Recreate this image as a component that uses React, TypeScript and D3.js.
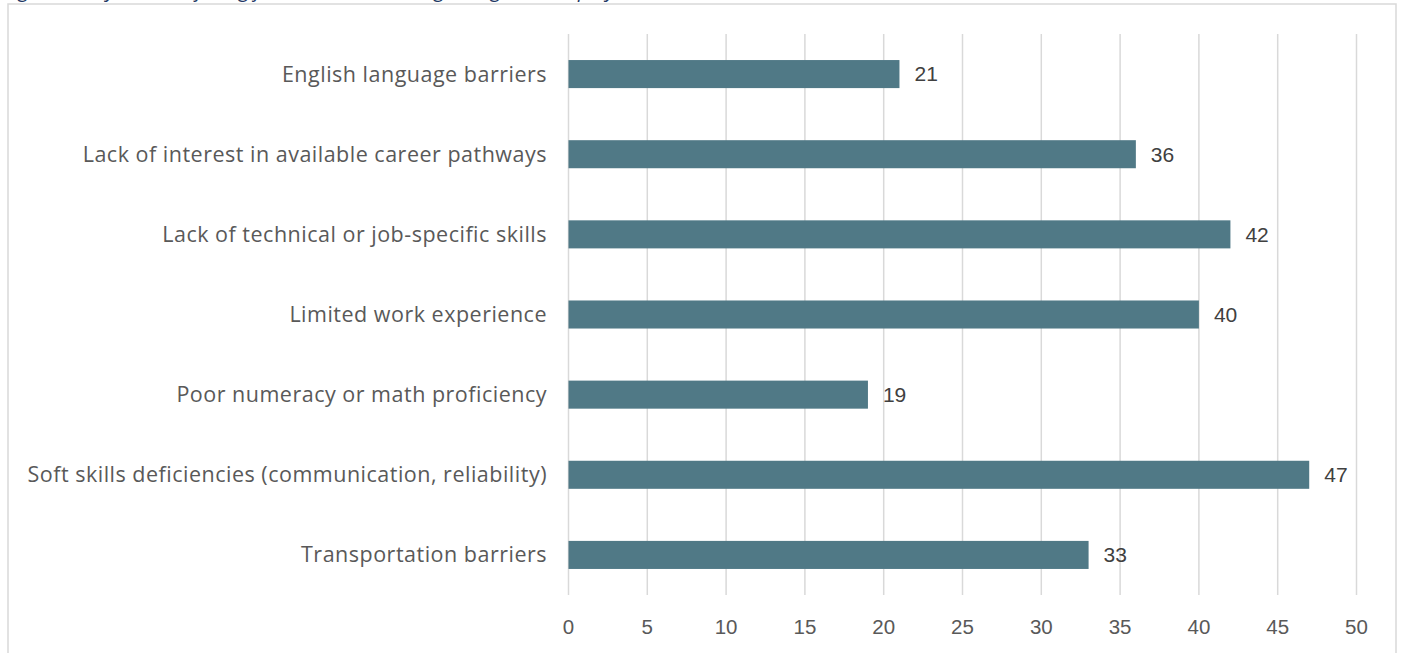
import { useEffect, useRef } from "react";
import * as d3 from "d3";

const CATEGORIES = [
  "English language barriers",
  "Lack of interest in available career pathways",
  "Lack of technical or job-specific skills",
  "Limited work experience",
  "Poor numeracy or math proficiency",
  "Soft skills deficiencies (communication, reliability)",
  "Transportation barriers",
];
const VALUES = [21, 36, 42, 40, 19, 47, 33];
const X_TICKS = [0, 5, 10, 15, 20, 25, 30, 35, 40, 45, 50];

const W = 1401, H = 653;
const BAR = "#507986";
const GRID = "#d9d9d9";
const TEXT = "#595959";

export default function App() {
  const svgRef = useRef<SVGSVGElement>(null);

  useEffect(() => {
    if (!svgRef.current) return;
    const svg = d3.select(svgRef.current);
    svg.selectAll("*").remove();

    const x = d3.scaleLinear().domain([0, 50]).range([568.5, 1356.5]);
    const y = d3.scaleBand<string>()
      .domain(CATEGORIES)
      .range([34, 595])
      .paddingInner(0.65)
      .paddingOuter(0.325);

    // frame
    svg.append("rect")
      .attr("x", 8).attr("y", 4)
      .attr("width", 1388).attr("height", H + 20)
      .attr("fill", "#fff")
      .attr("stroke", GRID).attr("stroke-width", 1.5);

    // title sits above the frame; only its descenders reach into view
    svg.append("text")
      .attr("x", 4).attr("y", -3)
      .attr("fill", "#1f3864")
      .attr("font-family", "'Open Sans', sans-serif")
      .attr("font-style", "italic")
      .attr("font-size", 20)
      .text("Figure 6: Key barriers facing job seekers according to regional employers");

    // gridlines
    svg.append("g")
      .selectAll("line")
      .data(X_TICKS)
      .join("line")
      .attr("x1", (d) => x(d)).attr("x2", (d) => x(d))
      .attr("y1", 34).attr("y2", 595)
      .attr("stroke", GRID).attr("stroke-width", 1.5);

    // tick labels
    svg.append("g")
      .selectAll("text")
      .data(X_TICKS)
      .join("text")
      .attr("x", (d) => x(d))
      .attr("y", 627)
      .attr("dy", "0.35em")
      .attr("text-anchor", "middle")
      .attr("fill", TEXT)
      .attr("font-family", "'Liberation Sans', Arial, sans-serif")
      .attr("font-size", 20.5)
      .text((d) => d);

    const rows = CATEGORIES.map((c, i) => ({ c, v: VALUES[i] }));

    // bars
    svg.append("g")
      .selectAll("rect")
      .data(rows)
      .join("rect")
      .attr("x", x(0))
      .attr("y", (d) => y(d.c)!)
      .attr("width", (d) => x(d.v) - x(0))
      .attr("height", y.bandwidth())
      .attr("fill", BAR);

    // value labels
    svg.append("g")
      .selectAll("text")
      .data(rows)
      .join("text")
      .attr("x", (d) => x(d.v) + 15)
      .attr("y", (d) => y(d.c)! + y.bandwidth() / 2)
      .attr("dy", "0.35em")
      .attr("fill", "#404040")
      .attr("font-family", "'Liberation Sans', Arial, sans-serif")
      .attr("font-size", 21)
      .text((d) => d.v);

    // category labels
    svg.append("g")
      .selectAll("text")
      .data(rows)
      .join("text")
      .attr("x", 547)
      .attr("y", (d) => y(d.c)! + y.bandwidth() / 2)
      .attr("dy", "0.35em")
      .attr("text-anchor", "end")
      .attr("fill", TEXT)
      .attr("font-family", "'Open Sans', sans-serif")
      .attr("font-size", 21.5)
      .attr("letter-spacing", 0.5)
      .text((d) => d.c);
  }, []);

  return (
    <svg
      ref={svgRef}
      width={W}
      height={H}
      style={{ position: "fixed", left: 0, top: 0, background: "#fff" }}
    />
  );
}
